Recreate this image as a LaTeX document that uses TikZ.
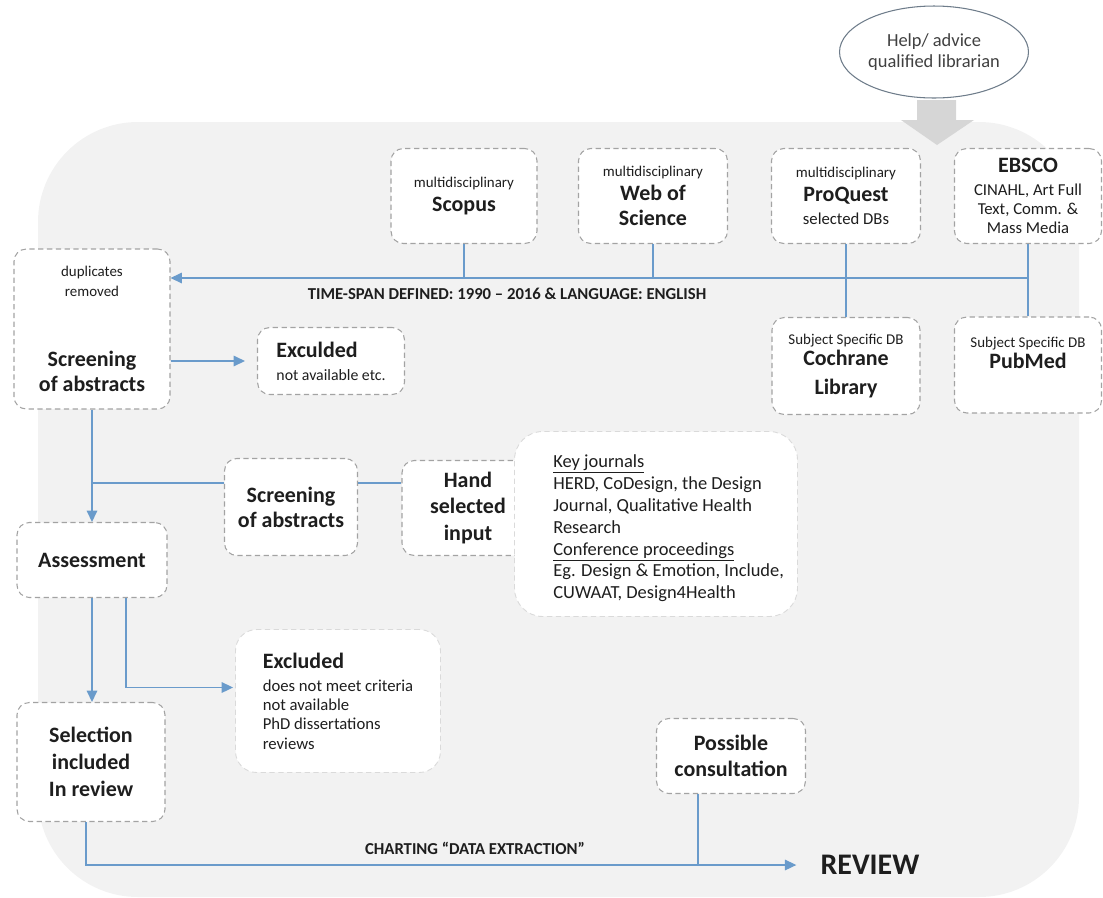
\documentclass[tikz,border=0pt]{standalone}
\usepackage{fontspec}
\setmainfont{Carlito}
\usetikzlibrary{arrows.meta,shapes.geometric}

\definecolor{bggrey}{HTML}{F2F2F2}
\definecolor{dashgrey}{HTML}{A3A3A3}
\definecolor{softgrey}{HTML}{DADADA}
\definecolor{linkblue}{HTML}{6A9BCB}
\definecolor{inkgrey}{HTML}{1E1E1E}
\definecolor{arrowgrey}{HTML}{D6D6D6}
\definecolor{rimgrey}{HTML}{6E7C8A}

\newcommand\bigfont{\fontsize{12.5}{15}\selectfont\bfseries}
\newcommand\smfont{\fontsize{8.5}{10}\selectfont\mdseries}
\newcommand\mdfont{\fontsize{9.5}{11}\selectfont\mdseries}

\begin{document}
\begin{tikzpicture}[x=0.02cm,y=-0.02cm,
    dbbox/.style={draw=dashgrey, dash pattern=on 3pt off 2pt, line width=0.6pt,
        fill=white, rounded corners=7pt, align=center, font=\bigfont,
        text=inkgrey, inner sep=2pt},
    softbox/.style={draw=softgrey, dash pattern=on 3pt off 2pt, line width=0.5pt,
        fill=white, rounded corners=16pt, text=inkgrey, inner sep=0pt},
    link/.style={draw=linkblue, line width=0.8pt},
    arr/.style={link, -{Triangle[length=6.5pt,width=6pt]}},
    lbl/.style={font=\fontsize{9.5}{11}\selectfont\bfseries, text=inkgrey, inner sep=0pt}]

    \useasboundingbox (0,0) rectangle (1103,897);

    % Background panel and librarian arrow
    \fill[bggrey, rounded corners=2cm] (38,122) rectangle (1079,897);
    \fill[arrowgrey] (917,100) -- (956,100) -- (956,120) -- (974,120)
        -- (937,145) -- (901,120) -- (917,120) -- cycle;
    \node[ellipse, draw=rimgrey, line width=0.6pt, fill=white, align=center,
        minimum width=3.78cm, minimum height=1.84cm, inner sep=0pt, text=inkgrey!85,
        font=\fontsize{10.5}{11.5}\selectfont] (help) at (934,52)
        {Help/ advice\\qualified librarian};

    % Databases
    \node[dbbox, minimum width=2.92cm, minimum height=1.9cm] (scopus) at (464,196)
        {{\smfont multidisciplinary}\\[-1.5pt]Scopus};
    \node[dbbox, minimum width=2.98cm, minimum height=1.9cm] (wos) at (653,196)
        {{\smfont multidisciplinary}\\[-1.5pt]Web of\\[-0.8pt]Science};
    \node[dbbox, minimum width=2.98cm, minimum height=1.9cm] (proq) at (846,196)
        {{\smfont multidisciplinary}\\[-1.5pt]ProQuest\\[-2pt]{\mdfont selected DBs}};
    \node[dbbox, minimum width=2.94cm, minimum height=1.9cm] (ebsco) at (1028,196)
        {EBSCO\\[-2pt]{\mdfont CINAHL, Art Full}\\[-4pt]{\mdfont Text, Comm. \&}\\[-4pt]{\mdfont Mass Media}};
    \node[dbbox, minimum width=2.96cm, minimum height=1.94cm] (cochr) at (846,366)
        {{\smfont Subject Specific DB}\\[-3pt]Cochrane\\[1.4pt]Library};
    \node[dbbox, minimum width=2.94cm, minimum height=1.92cm] (pubmed) at (1028,365)
        {{\smfont Subject Specific DB}\\[-3pt]PubMed\\[-1pt]\mbox{}};

    % Screening steps
    \node[dbbox, minimum width=3.12cm, minimum height=3.2cm] (dup) at (92,329)
        {{\smfont duplicates}\\[-3.7pt]{\smfont removed}\\[24.7pt]Screening\\[-0.8pt]of abstracts};
    \node[dbbox, minimum width=2.94cm, minimum height=1.34cm, align=left, font=\fontsize{9}{11}\selectfont] (excl1) at (331,361)
        {{\bigfont Exculded}\\[2pt]not available etc.};
    \node[dbbox, minimum width=2.66cm, minimum height=1.94cm] (scr2) at (291,507)
        {Screening\\[-0.8pt]of abstracts};
    \node[dbbox, minimum width=2.64cm, minimum height=1.9cm] (hand) at (468,508)
        {Hand\\selected\\input};
    \node[softbox, minimum width=5.66cm, minimum height=3.7cm] (keyj) at (656,524) {};
    \node[anchor=north west, align=left, inner sep=0pt, text=inkgrey,
        font=\fontsize{10.5}{12.5}\selectfont] (keyjtext) at (553,454)
        {\underline{Key journals}\\HERD, CoDesign, the Design\\Journal, Qualitative Health\\Research\\
         \underline{Conference proceedings}\\Eg. Design \& Emotion, Include,\\CUWAAT, Design4Health};
    \node[dbbox, minimum width=3cm, minimum height=1.5cm] (assess) at (92,560) {Assessment};
    \node[softbox, minimum width=4.1cm, minimum height=2.86cm, align=left,
        font=\mdfont, rounded corners=12pt] (excl2) at (338,701)
        {{\bigfont Excluded}\\[2pt]does not meet criteria\\not available\\PhD dissertations\\reviews};
    \node[dbbox, minimum width=2.96cm, minimum height=2.38cm] (select) at (91,762)
        {Selection\\[0.5pt]included\\[0.5pt]In review};
    \node[dbbox, minimum width=2.98cm, minimum height=1.5cm] (possib) at (731,756)
        {Possible\\consultation};
    \node[inner sep=0pt, text=inkgrey, font=\fontsize{17}{20}\selectfont\bfseries] (review) at (870,865) {REVIEW};

    % Labels on the lines
    \node[lbl] (tslabel) at (507,294) {TIME-SPAN DEFINED: 1990 -- 2016 \& LANGUAGE: ENGLISH};
    \node[lbl] (chartlabel) at (475,848) {CHARTING ``DATA EXTRACTION''};

    % Database lines
    \coordinate (tsrow) at (0,278);
    \draw[arr] (ebsco.south |- tsrow) -- (dup.east |- tsrow);
    \draw[link] (scopus.south) -- (scopus.south |- tsrow);
    \draw[link] (wos.south) -- (wos.south |- tsrow);
    \draw[link] (proq.south) -- (cochr.north);
    \draw[link] (ebsco.south) -- (pubmed.north);

    % Screening flow
    \draw[arr, shorten >=0.24cm] (excl1.west -| dup.east) -- (excl1.west);
    \draw[arr] (dup.south) -- (assess.north);
    \coordinate (handrow) at (0,483);
    \draw[link] (scr2.west |- handrow) -- (dup.south |- handrow);
    \draw[link] (scr2.east |- handrow) -- (hand.west |- handrow);
    \draw[arr] (assess.south) -- (assess.south |- select.north);
    \draw[arr, shorten >=0.04cm] ([xshift=0.68cm]assess.south) |- ([yshift=0.27cm]excl2.west);

    % Charting to review
    \draw[arr, shorten >=0.48cm] ([xshift=-0.1cm]select.south) |- (review.west);
    \coordinate (consfoot) at ([xshift=-0.66cm]possib.south);
    \draw[link] (consfoot) -- (consfoot |- review.west);
\end{tikzpicture}
\end{document}
